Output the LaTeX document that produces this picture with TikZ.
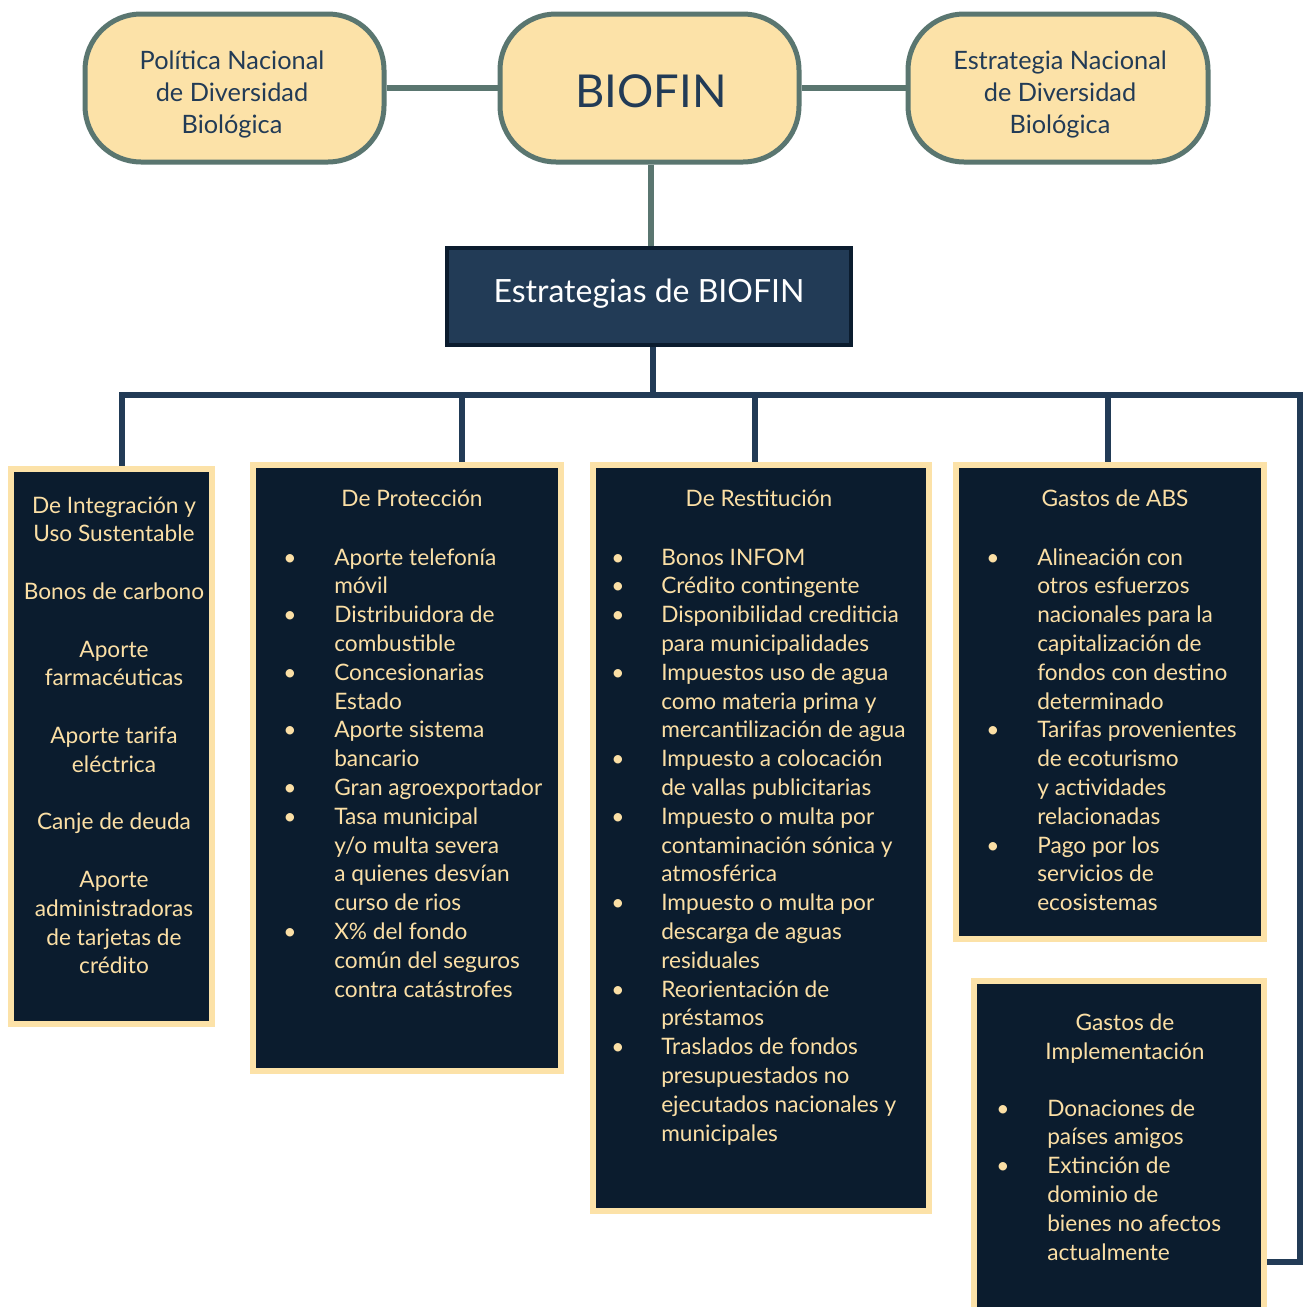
\documentclass[tikz,border=0pt]{standalone}
\usepackage{fontspec}
\setmainfont{Lato}
\usetikzlibrary{fit}
\definecolor{cream}{HTML}{FCE2A8}
\definecolor{creamtxt}{HTML}{FBDFA5}
\definecolor{sage}{HTML}{5A7670}
\definecolor{navy}{HTML}{223B56}
\definecolor{ink}{HTML}{0B1C2E}
\pgfdeclarelayer{bg}
\pgfdeclarelayer{lines}
\pgfsetlayers{bg,lines,main}
\tikzset{
  pill/.style={draw=sage, fill=cream, line width=3.75pt, rounded corners=42pt, inner sep=0pt},
  pilltxt/.style={text=navy, align=center, inner sep=0pt, font=\fontsize{19}{24}\selectfont},
  dbox/.style={draw=cream, fill=ink, line width=4.5pt, inner sep=0pt},
  topline/.style={draw=sage, line width=4.5pt},
  botline/.style={draw=navy, line width=4.5pt, line join=miter},
  btxt/.style={text=creamtxt, font=\fontsize{17}{21.6}\selectfont, inner sep=0pt, anchor=base west},
  ctxt/.style={btxt, anchor=base},
  bul/.style={btxt, anchor=base},
}
\begin{document}
\begin{tikzpicture}[x=0.75pt, y=-0.75pt]
\useasboundingbox (0,0) rectangle (1304,1307);
\begin{pgfonlayer}{bg}
  \fill[white] (0,0) rectangle (1304,1307);
\end{pgfonlayer}

% top pills
\node[pill, fit={(85,14) (384,162)}] (pol) {};
\node[pill, fit={(500,14) (799,162)}] (bio) {};
\node[pill, fit={(908,14) (1208,162)}] (est) {};
\node[pilltxt, anchor=base] (polt1) at (232,69) {Política Nacional};
\node[pilltxt, anchor=base] (polt2) at (232,101) {de Diversidad};
\node[pilltxt, anchor=base] (polt3) at (232,133) {Biológica};
\node[pilltxt, anchor=base, font=\fontsize{34}{40}\selectfont] (biot) at (651,107) {BIOFIN};
\node[pilltxt, anchor=base] (estt1) at (1060,69) {Estrategia Nacional};
\node[pilltxt, anchor=base] (estt2) at (1060,101) {de Diversidad};
\node[pilltxt, anchor=base] (estt3) at (1060,133) {Biológica};

% strategies box
\node[draw=ink, fill=navy, line width=3pt, inner sep=0pt, fit={(447,248) (851,345)}] (str) {};
\node[text=white, font=\fontsize{24}{30}\selectfont, anchor=base, inner sep=0pt] (strt) at (649,302) {Estrategias de BIOFIN};

% category boxes
\node[dbox, fit={(11,469) (212,1024)}] (b1) {};
\node[dbox, fit={(253,465) (561,1071)}] (b2) {};
\node[dbox, fit={(593,465) (929,1211)}] (b3) {};
\node[dbox, fit={(956,465) (1264,939)}] (b4) {};
\node[dbox, fit={(974,981) (1264,1330)}] (b5) {};

% connectors
\coordinate (busy) at (0,395);
\coordinate (jS) at (653,395);
\coordinate (jA) at (122,395);
\coordinate (jB) at (462,395);
\coordinate (jC) at (755,395);
\coordinate (jD) at (1108,395);
\coordinate (rt) at (1300,395);
\coordinate (rb) at (1300,1262);
\begin{pgfonlayer}{lines}
  \draw[topline] (pol.east) -- (bio.west);
  \draw[topline] (bio.east) -- (est.west);
  \draw[topline] (bio.south -| 651,0) -- (str.north -| 651,0);
  \draw[botline] (jS |- str.south) -- (jS);
  \draw[botline] (jA |- b1.north) -- (jA) -- (rt) -- (rb) -- (rb -| b5.east);
  \draw[botline] (jB) -- (jB |- b2.north);
  \draw[botline] (jC) -- (jC |- b3.north);
  \draw[botline] (jD) -- (jD |- b4.north);
\end{pgfonlayer}

% box 1 text
\foreach \t/\k in {De Integración y/0, Uso Sustentable/1, Bonos de carbono/3, Aporte/5, farmacéuticas/6, Aporte tarifa/8, eléctrica/9, Canje de deuda/11, Aporte/13, administradoras/14, de tarjetas de/15, crédito/16}
  \node[ctxt] (a\k) at (114, 513+28.8*\k) {\t};

% box 2
\node[ctxt] (t2) at (412,506) {De Protección};
\foreach \b/\t [count=\i from 0] in {1/Aporte telefonía, 0/móvil, 1/Distribuidora de, 0/combustible, 1/Concesionarias, 0/Estado, 1/Aporte sistema, 0/bancario, 1/Gran agroexportador, 1/Tasa municipal, 0/{y/o multa severa}, 0/a quienes desvían, 0/curso de rios, 1/X\% del fondo, 0/común del seguros, 0/contra catástrofes}
{
  \node[btxt] (p\i) at (334, 565+28.8*\i) {\t};
  \ifnum\b=1 \node[bul] (pb\i) at (290, 565+28.8*\i) {\textbullet}; \fi
}

% box 3
\node[ctxt] (t3) at (759,506) {De Restitución};
\foreach \b/\t [count=\i from 0] in {1/Bonos INFOM, 1/Crédito contingente, 1/Disponibilidad crediticia, 0/para municipalidades, 1/Impuestos uso de agua, 0/como materia prima y, 0/mercantilización de agua, 1/Impuesto a colocación, 0/de vallas publicitarias, 1/Impuesto o multa por, 0/contaminación sónica y, 0/atmosférica, 1/Impuesto o multa por, 0/descarga de aguas, 0/residuales, 1/Reorientación de, 0/préstamos, 1/Traslados de fondos, 0/presupuestados no, 0/ejecutados nacionales y, 0/municipales}
{
  \node[btxt] (r\i) at (661, 565+28.8*\i) {\t};
  \ifnum\b=1 \node[bul] (rb\i) at (618, 565+28.8*\i) {\textbullet}; \fi
}

% box 4
\node[ctxt] (t4) at (1115,506) {Gastos de ABS};
\foreach \b/\t [count=\i from 0] in {1/Alineación con, 0/otros esfuerzos, 0/nacionales para la, 0/capitalización de, 0/fondos con destino, 0/determinado, 1/Tarifas provenientes, 0/de ecoturismo, 0/y actividades, 0/relacionadas, 1/Pago por los, 0/servicios de, 0/ecosistemas}
{
  \node[btxt] (g\i) at (1037, 565+28.8*\i) {\t};
  \ifnum\b=1 \node[bul] (gb\i) at (993, 565+28.8*\i) {\textbullet}; \fi
}

% box 5
\node[ctxt] (t5a) at (1125,1030) {Gastos de};
\node[ctxt] (t5b) at (1125,1059) {Implementación};
\foreach \b/\t [count=\i from 0] in {1/Donaciones de, 0/países amigos, 1/Extinción de, 0/dominio de, 0/bienes no afectos, 0/actualmente}
{
  \node[btxt] (im\i) at (1047, 1116+28.8*\i) {\t};
  \ifnum\b=1 \node[bul] (imb\i) at (1003, 1116+28.8*\i) {\textbullet}; \fi
}
\end{tikzpicture}
\end{document}
